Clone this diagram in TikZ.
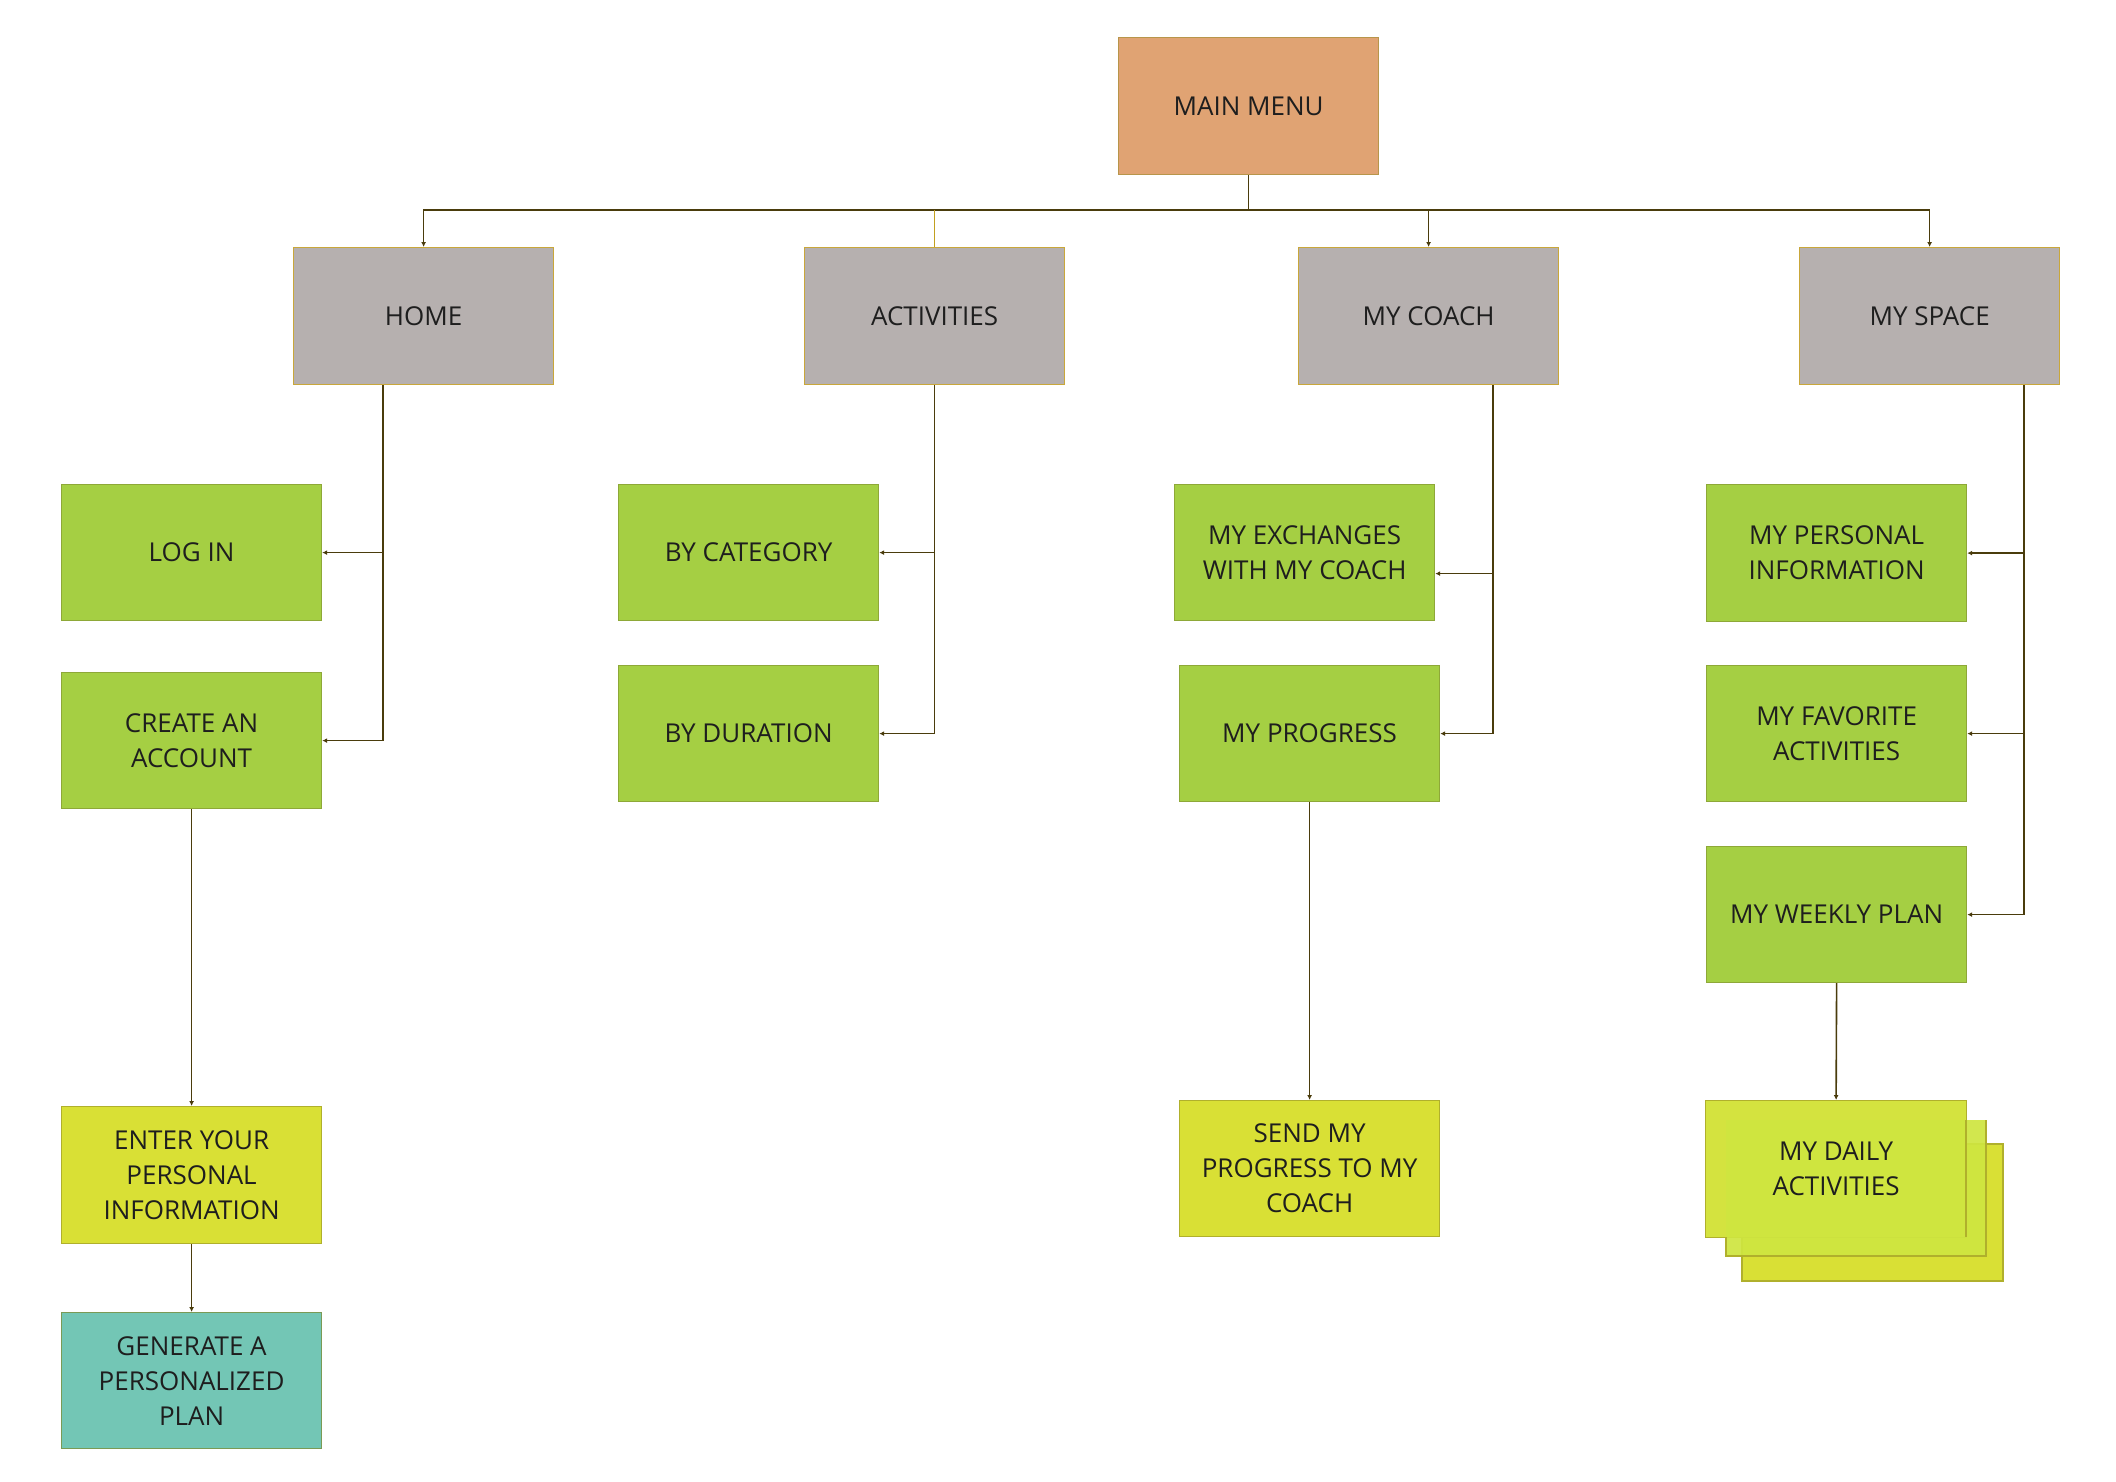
\documentclass[tikz,border=0pt]{standalone}
\usepackage{fontspec}
\setmainfont{Open Sans}
\usetikzlibrary{arrows.meta}
\definecolor{mainfill}{HTML}{E0A373}
\definecolor{mainline}{HTML}{B8954A}
\definecolor{grayfill}{HTML}{B6B0AF}
\definecolor{grayline}{HTML}{C9A73A}
\definecolor{greenfill}{HTML}{A5CF43}
\definecolor{greenline}{HTML}{8EA838}
\definecolor{yelfill}{HTML}{D9E035}
\definecolor{yelline}{HTML}{B0B02C}
\definecolor{tealfill}{HTML}{73C6B5}
\definecolor{tealline}{HTML}{7A9A55}
\definecolor{dailyA}{HTML}{D4E33F}
\definecolor{dailyB}{HTML}{CFE640}
\definecolor{conncol}{HTML}{4A3C0C}
\definecolor{goldcol}{HTML}{C2A020}
\definecolor{txt}{HTML}{1E1E1E}
\tikzset{
  box/.style={rectangle, anchor=north west, minimum width=260pt, minimum height=136pt,
    inner sep=0pt, align=center, line width=1.2pt, text=txt,
    font=\fontsize{26}{35}\selectfont},
  mainbox/.style={box, fill=mainfill, draw=mainline},
  graybox/.style={box, fill=grayfill, draw=grayline},
  greenbox/.style={box, fill=greenfill, draw=greenline},
  yelbox/.style={box, fill=yelfill, draw=yelline},
  tealbox/.style={box, fill=tealfill, draw=tealline},
  conn/.style={draw=conncol, line width=1.6pt},
  arr/.style={conn, -{Latex[length=5pt,width=5pt]}},
}
\begin{document}
\begin{tikzpicture}[x=1pt,y=-1pt]
\useasboundingbox (0,0) rectangle (2116,1482);
\fill[white] (0,0) rectangle (2116,1482);
% level 0
\node[mainbox, minimum height=137pt] (main) at (1118,37) {MAIN MENU};
% level 1
\node[graybox, minimum height=137pt] (home) at (293,247) {HOME};
\node[graybox, minimum height=137pt] (act) at (804,247) {ACTIVITIES};
\node[graybox, minimum height=137pt] (coach) at (1298,247) {MY COACH};
\node[graybox, minimum height=137pt] (space) at (1799,247) {MY SPACE};
% home children
\node[greenbox] (login) at (61,484) {LOG IN};
\node[greenbox] (create) at (61,672) {CREATE AN\\ACCOUNT};
\node[yelbox, minimum height=137pt] (enter) at (61,1106) {ENTER YOUR\\PERSONAL\\INFORMATION};
\node[tealbox] (gen) at (61,1312) {GENERATE A\\PERSONALIZED\\PLAN};
% activities children
\node[greenbox] (bycat) at (618,484) {BY CATEGORY};
\node[greenbox] (bydur) at (618,665) {BY DURATION};
% coach children
\node[greenbox] (exch) at (1174,484) {MY EXCHANGES\\WITH MY COACH};
\node[greenbox] (prog) at (1179,665) {MY PROGRESS};
\node[yelbox] (send) at (1179,1100) {SEND MY\\PROGRESS TO MY\\COACH};
% space children
\node[greenbox, minimum height=137pt] (pinfo) at (1706,484) {MY PERSONAL\\INFORMATION};
\node[greenbox] (fav) at (1706,665) {MY FAVORITE\\ACTIVITIES};
\node[greenbox] (weekly) at (1706,846) {MY WEEKLY PLAN};
% daily stack
\fill[yelfill] (1742,1144) rectangle (2003,1281);
\draw[yelline, line width=1.2pt] (1742,1144) rectangle (2003,1281);
\node[box, fill=dailyA, draw=yelline, minimum width=261pt, minimum height=137pt] (daily) at (1705,1100) {};
\fill[dailyB, opacity=0.92] (1726,1120) rectangle (1986,1256);
\draw[yelline, line width=1.2pt] (1726,1237) -- (1726,1256) -- (1986,1256) -- (1986,1120);
\draw[yelline, line width=1.2pt] (1966,1120) -- (1966,1237);
\node[text=txt, align=center, font=\fontsize{26}{35}\selectfont] (dailytext) at (daily.center) {MY DAILY\\ACTIVITIES};
% connectors level 0 -> 1
\coordinate (bus) at (0,210);
\draw[conn] (main.south) -- (main.south |- bus);
\draw[arr] (main.south |- bus) -| (home.north);
\draw[arr] (main.south |- bus) -| (coach.north);
\draw[arr] (main.south |- bus) -| (space.north);
\draw[draw=goldcol, line width=1.6pt] (act.north |- bus) -- (act.north);
% home
\coordinate (hx) at (383,0);
\draw[arr] (hx |- home.south) |- (login.east);
\draw[arr] (hx |- home.south) |- (create.east);
\draw[arr] (create.south) -- (enter.north);
\draw[arr] (enter.south) -- (gen.north);
% activities
\draw[arr] (act.south) |- (bycat.east);
\draw[arr] (act.south) |- (bydur.east);
% coach
\coordinate (cx) at (1493,0);
\draw[arr] (cx |- coach.south) |- ([yshift=-21pt]exch.east);
\draw[arr] (cx |- coach.south) |- (prog.east);
\draw[arr] (prog.south) -- (send.north);
% space
\coordinate (sx) at (2024,0);
\draw[arr] (sx |- space.south) |- (pinfo.east);
\draw[arr] (sx |- space.south) |- (fav.east);
\draw[arr] (sx |- space.south) |- (weekly.east);
\draw[arr] (weekly.south) -- (daily.north);
\end{tikzpicture}
\end{document}
